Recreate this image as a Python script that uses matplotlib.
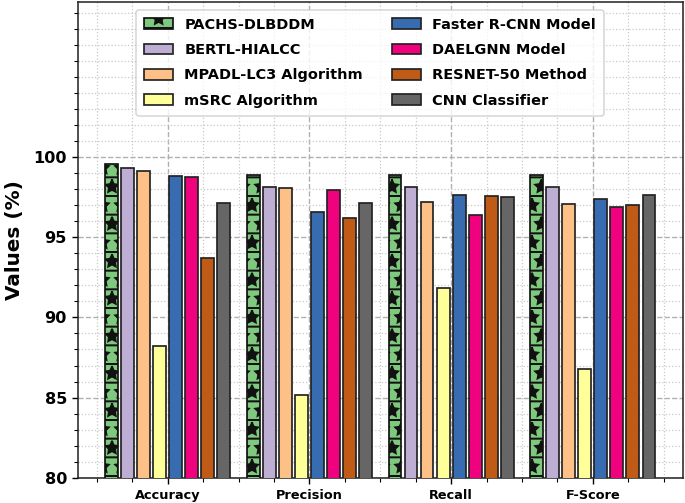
import matplotlib
matplotlib.use('Agg')
import matplotlib.pyplot as plt
import numpy as np
from matplotlib.ticker import MultipleLocator

plt.rcParams['hatch.linewidth'] = 1.3

metrics = ['Accuracy', 'Precision', 'Recall', 'F-Score']
models = ['PACHS-DLBDDM', 'BERTL-HIALCC', 'MPADL-LC3 Algorithm', 'mSRC Algorithm',
          'Faster R-CNN Model', 'DAELGNN Model', 'RESNET-50 Method', 'CNN Classifier']

pachs_dlbddm = [99.58, 98.88, 98.88, 98.88]
bertl_hialcc = [99.30, 98.13, 98.13, 98.13]
mpadl_lc3 = [99.16, 98.05, 97.22, 97.10]
msrc = [88.24, 85.18, 91.82, 86.77]
faster_rcnn = [98.83, 96.59, 97.64, 97.36]
daelgnn = [98.75, 97.98, 96.38, 96.86]
resnet50 = [93.70, 96.18, 97.56, 97.02]
cnn = [97.15, 97.15, 97.49, 97.64]

series = [pachs_dlbddm, bertl_hialcc, mpadl_lc3, msrc, faster_rcnn, daelgnn, resnet50, cnn]
colors = ['#7fc97f', '#beaed4', '#fdc086', '#ffff99', '#386cb0', '#f0027f', '#bf5b17', '#666666']

DPI = 112
fig = plt.figure(figsize=(685 / DPI, 503 / DPI), dpi=DPI)
ax = fig.add_axes([0.1139, 0.0503, 0.8825, 0.9463])

x = np.arange(len(metrics))
pitch = 0.113
width = 0.09
for j, (vals, col, name) in enumerate(zip(series, colors, models)):
    off = (j - 3.5) * pitch
    ax.bar(x + off, vals, width, color=col,
           edgecolor='#111111' if j == 0 else '#222222', linewidth=1.1,
           hatch='*-' if j == 0 else None, label=name, zorder=3)

ax.set_ylim(80, 109.7)
ax.set_xlim(-0.633, 3.633)
ax.set_yticks([80, 85, 90, 95, 100])
ax.yaxis.set_minor_locator(MultipleLocator(1))
ax.xaxis.set_minor_locator(MultipleLocator(0.25))
ax.set_xticks(x)
ax.set_xticklabels(metrics, fontsize=8.3, fontweight='bold')
for lbl in ax.get_yticklabels():
    lbl.set_fontsize(10.4)
    lbl.set_fontweight('bold')
ax.set_ylabel('Values (%)', fontsize=12.9, fontweight='bold', labelpad=6)

ax.grid(which='major', linestyle='--', color='#b0b0b0', linewidth=0.9, zorder=0)
ax.grid(which='minor', linestyle=':', color='#c8c8c8', linewidth=0.8, zorder=0)
ax.set_axisbelow(True)
ax.tick_params(which='major', length=3.6, width=0.9)
ax.tick_params(which='minor', length=2.8, width=0.7)
for s in ax.spines.values():
    s.set_color('#222222')
    s.set_linewidth(1.0)

leg = ax.legend(ncol=2, loc='upper left', prop={'weight': 'bold', 'size': 9.3},
                labelspacing=0.78, columnspacing=2.0, handlelength=2.0,
                handleheight=0.75, handletextpad=0.78, borderpad=0.55,
                borderaxespad=0, bbox_to_anchor=(0.096, 0.983))

fig.savefig('out.png', dpi=DPI)
